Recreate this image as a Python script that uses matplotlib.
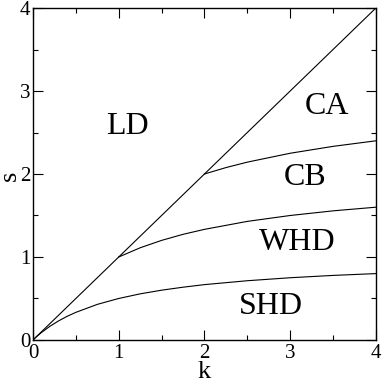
import matplotlib
matplotlib.use('Agg')
import matplotlib.pyplot as plt

plt.rcParams['font.family'] = ['Liberation Serif', 'DejaVu Serif']

# phase boundaries
diag_k = [0.0, 4.0]
diag_s = [0.0, 4.0]

low_k = [0.0, 0.05, 0.1, 0.2, 0.3, 0.4, 0.5, 0.75, 1.0, 1.25, 1.5, 1.75, 2.0,
         2.5, 3.0, 3.5, 4.0]
low_s = [0.0, 0.048, 0.091, 0.167, 0.231, 0.286, 0.333, 0.429, 0.5, 0.556,
         0.6, 0.636, 0.667, 0.714, 0.75, 0.778, 0.8]

mid_k = [1.0, 1.25, 1.5, 1.75, 2.0, 2.5, 3.0, 3.5, 4.0]
mid_s = [1.0, 1.111, 1.2, 1.273, 1.333, 1.429, 1.5, 1.556, 1.6]

up_k = [2.0, 2.25, 2.5, 3.0, 3.5, 4.0]
up_s = [2.0, 2.077, 2.143, 2.25, 2.333, 2.4]

region_names = ['LD', 'CA', 'CB', 'WHD', 'SHD']
region_k = [1.10, 3.43, 3.18, 3.08, 2.78]
region_s = [2.57, 2.81, 1.96, 1.17, 0.40]

fig = plt.figure(figsize=(3.82, 3.82), dpi=100)
ax = fig.add_axes([0.0864, 0.110, 0.8976, 0.869])

for kk, ss in [(diag_k, diag_s), (low_k, low_s), (mid_k, mid_s), (up_k, up_s)]:
    ax.plot(kk, ss, color='black', lw=0.8)

for name, kx, sy in zip(region_names, region_k, region_s):
    ax.text(kx, sy, name, fontsize=23, ha='center', va='center')

ax.set_xlim(0, 4)
ax.set_ylim(0, 4)
ax.set_xticks([0, 1, 2, 3, 4])
ax.set_yticks([0, 1, 2, 3, 4])
ax.set_xticks([0.5, 1.5, 2.5, 3.5], minor=True)
ax.set_yticks([0.5, 1.5, 2.5, 3.5], minor=True)
ax.tick_params(which='both', direction='in', top=True, right=True, labelsize=15)
ax.tick_params(which='major', length=7, width=0.8)
ax.tick_params(which='minor', length=3.5, width=0.8)
ax.tick_params(axis='x', pad=3)
ax.tick_params(axis='y', pad=2)
for sp in ax.spines.values():
    sp.set_linewidth(1.0)

ax.set_xlabel('k', fontsize=19)
ax.set_ylabel('s', fontsize=19)
ax.xaxis.set_label_coords(0.5, -0.064)
ax.yaxis.set_label_coords(-0.034, 0.495)

fig.savefig('out.png', dpi=100)
